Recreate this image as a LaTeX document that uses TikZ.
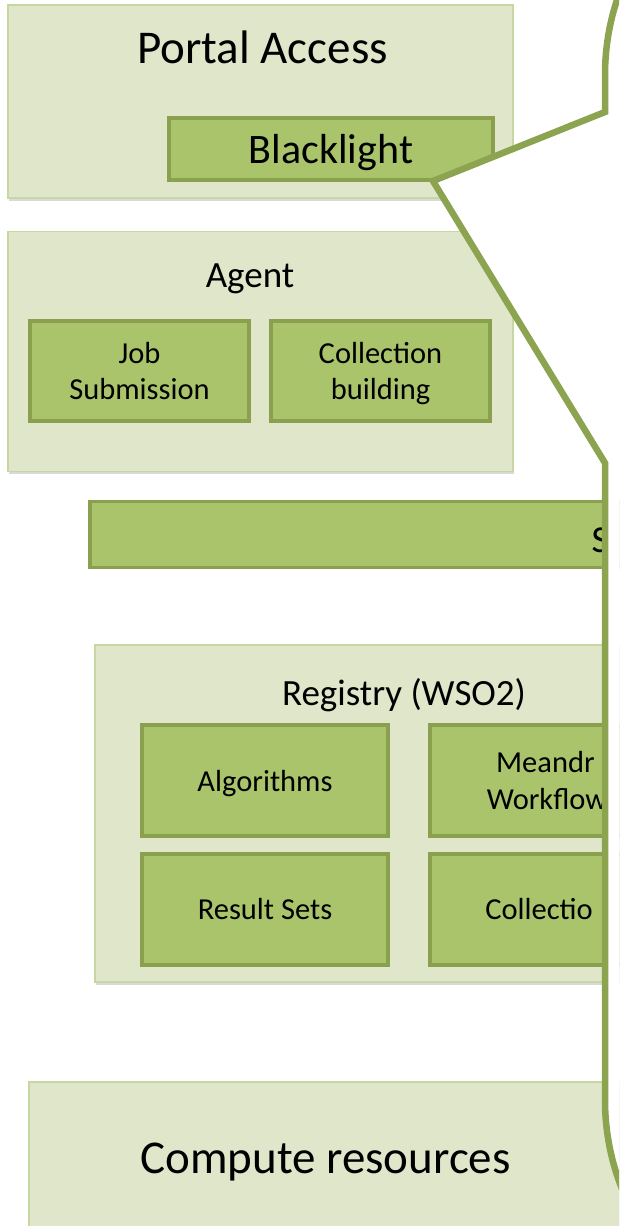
\documentclass[tikz,border=0pt]{standalone}
\usepackage{fontspec}
\setmainfont{Carlito}
\usetikzlibrary{shadows}
\definecolor{paleolive}{HTML}{DFE6C9}
\definecolor{paleedge}{HTML}{C6D7A2}
\definecolor{olivefill}{HTML}{AAC46C}
\definecolor{oliveedge}{HTML}{8AA04F}
\definecolor{balloonedge}{HTML}{8CA34F}

\begin{document}
\begin{tikzpicture}[x=1pt, y=-1pt,
        outerbox/.style={rectangle, draw=paleedge, line width=1.5pt, fill=paleolive, inner sep=0pt,
            drop shadow={shadow xshift=1pt, shadow yshift=-2.5pt, opacity=0.3}},
        innerbox/.style={rectangle, draw=oliveedge, line width=4pt, fill=olivefill, inner sep=0pt,
            align=center, text depth=0pt, font=\fontsize{30.5}{36.5}\selectfont},
        bigtext/.style={anchor=base, font=\fontsize{47}{56}\selectfont},
        midtext/.style={anchor=base, font=\fontsize{37}{44}\selectfont},
        balloon/.style={draw=balloonedge, line width=6.5pt, fill=white}]
            \useasboundingbox (0,0) rectangle (619,1226);
            \clip (0,0) rectangle (619,1226);
            
            \node[outerbox, minimum width=505pt, minimum height=193pt] (portal) at (260.5,101.5) {};
            \node[bigtext] (portaltitle) at (262.5,63) {Portal Access};
            \node[innerbox, minimum width=324pt, minimum height=62pt, font=\fontsize{42}{50}\selectfont] (blacklight) at (331,149) {Blacklight};
            
            \node[outerbox, minimum width=505pt, minimum height=240pt] (agent) at (260.5,351.5) {};
            \node[midtext] (agenttitle) at (250,287) {Agent};
            \node[innerbox, minimum width=219pt, minimum height=100pt] (jobsub) at (139.5,371) {Job\\Submission};
            \node[innerbox, minimum width=219pt, minimum height=100pt] (collbuild) at (380.5,371) {Collection\\building};
            
            \node[innerbox, line width=3.5pt, minimum width=580pt, minimum height=66pt, anchor=west] (services) at (88,534.5) {};
            \node[anchor=base west, font=\fontsize{38}{46}\selectfont] (servicestext) at (588,552) {S};
            
            \node[outerbox, minimum width=618pt, minimum height=337pt] (registry) at (404,813.5) {};
            \node[midtext] (registrytitle) at (404,705) {Registry (WSO2)};
            \foreach \nm/\x/\y/\txt in {algos/265/780.5/Algorithms, meandre/553/780.5/{Meandr\phantom{e}\\Workflow\phantom{s}},
                results/265/909/Result Sets, colls/553/909/Collectio\phantom{ns}}
            \node[innerbox, minimum width=246pt, minimum height=111pt] (\nm) at (\x,\y) {\txt};
            
            \node[outerbox, minimum width=592pt, minimum height=146pt] (compute) at (325,1155) {};
            \node[bigtext] (computetitle) at (325.5,1173) {Compute resources};
            
            \draw[balloon] (433,181) -- (605,463) -- (605,1100) arc[start angle=180, end angle=270, radius=240pt]
                -- (1000,1340) -- (1000,-165) -- (845,-165) arc[start angle=90, end angle=180, radius=240pt]
                -- (605,112) -- cycle;
        \end{tikzpicture}
\end{document}
